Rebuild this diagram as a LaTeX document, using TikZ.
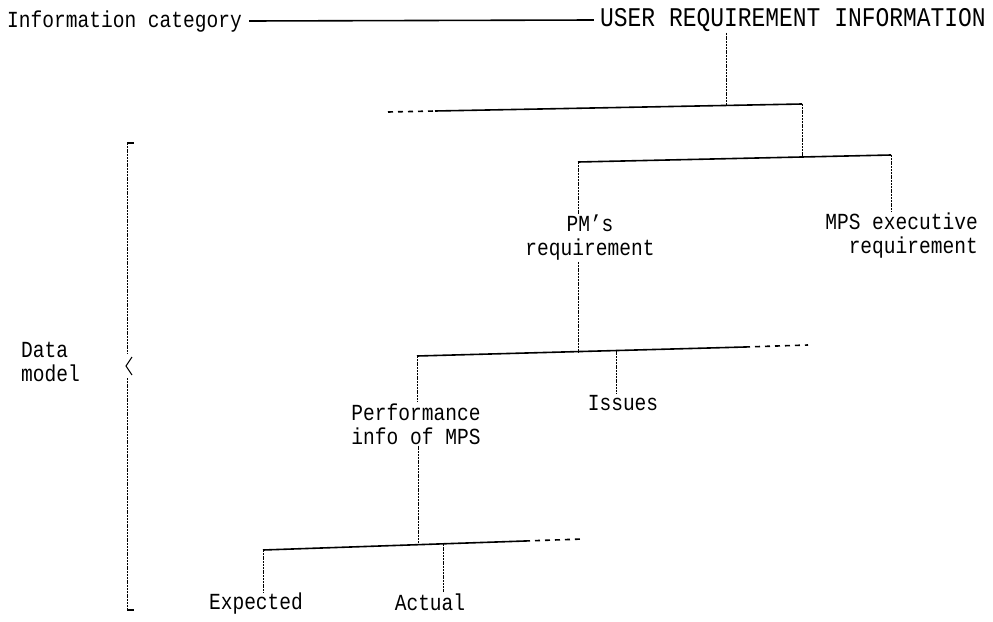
\documentclass[tikz,border=0pt]{standalone}
\usepackage{fontspec}
\setmainfont{Liberation Mono}[FakeStretch=0.85]
\usetikzlibrary{positioning,calc}

\begin{document}
\begin{tikzpicture}[x=1pt,y=-1pt,
  lbl/.style={inner sep=1pt,font=\fontsize{23}{24}\selectfont},
  bus/.style={line width=1.6pt},
  busdash/.style={line width=1.6pt,dash pattern=on 5pt off 5pt},
  vline/.style={line width=0.8pt,dash pattern=on 2pt off 0.8pt}]
\useasboundingbox (0,0) rectangle (993,621);
% header
\node[lbl,anchor=west] (cat) at (6,22) {Information category};
\node[lbl,anchor=east,font=\fontsize{27}{28}\selectfont] (user) at (987,20) {USER REQUIREMENT INFORMATION};
\draw[bus] (cat.east) ++(6,-1) coordinate (c1) (c1) -- ([xshift=-5pt]user.west);
% level 1 bus
\coordinate (l1d) at (388,112);
\coordinate (l1a) at (435,111);
\coordinate (l1b) at (802,104);
\coordinate (j1) at (726,105.5);
\draw[busdash] (l1d) -- (l1a);
\draw[bus] (l1a) -- (l1b);
\draw[vline] (user.south -| j1) -- (j1);
% level 2 bus
\coordinate (l2a) at (578,162);
\coordinate (l2b) at (891,155);
\coordinate (j2) at (802,157);
\draw[bus] (l2a) -- (l2b);
\draw[vline] (l1b) -- (j2);
\node[lbl,align=center] (pm) at (590,238) {PM's\\requirement};
\node[lbl,align=right,anchor=east] (mps) at (979,236) {MPS executive\\requirement};
\draw[vline] (l2a) -- (l2a |- pm.north);
\draw[vline] (l2b) -- (l2b |- mps.north);
% level 3 bus
\coordinate (l3a) at (417,356);
\coordinate (l3b) at (745,347);
\coordinate (l3d) at (808,345);
\coordinate (j3) at (578,351.6);
\coordinate (j3i) at (616,350.5);
\draw[bus] (l3a) -- (l3b);
\draw[busdash] (l3b) -- (l3d);
\draw[vline] (pm.south -| j3) -- (j3);
\node[lbl,align=center] (perf) at (416,424) {Performance\\info of MPS};
\node[lbl] (iss) at (623,403) {Issues};
\draw[vline] (l3a) -- (l3a |- perf.north);
\draw[vline] (j3i) -- (j3i |- iss.north);
% level 4 bus
\coordinate (l4a) at (263,550);
\coordinate (l4b) at (525,541);
\coordinate (l4d) at (583,539);
\coordinate (j4) at (418,544.7);
\coordinate (j4a) at (443,543.8);
\draw[bus] (l4a) -- (l4b);
\draw[busdash] (l4b) -- (l4d);
\draw[vline] (perf.south -| j4) -- (j4);
\node[lbl] (exp) at (256,604) {Expected};
\node[lbl] (act) at (430,602) {Actual};
\draw[vline] (l4a) -- (l4a |- exp.north);
\draw[vline] (j4a) -- (j4a |- act.north);
% data model bracket
\node[lbl,align=left,anchor=west] (dm) at (20,362) {Data\\model};
\coordinate (bt) at (127,143);
\coordinate (bb) at (127,610);
\coordinate (bm) at (127,366);
\draw[line width=1.4pt] (bt) -- ++(7,0) (bb) -- ++(7,0);
\draw[vline] (bt) -- ($(bm)+(0,-12)$);
\draw[vline] ($(bm)+(0,12)$) -- (bb);
\draw[line width=1pt] ($(bm)+(5,-9)$) -- ($(bm)+(-1,0)$) -- ($(bm)+(5,9)$);
\end{tikzpicture}
\end{document}
